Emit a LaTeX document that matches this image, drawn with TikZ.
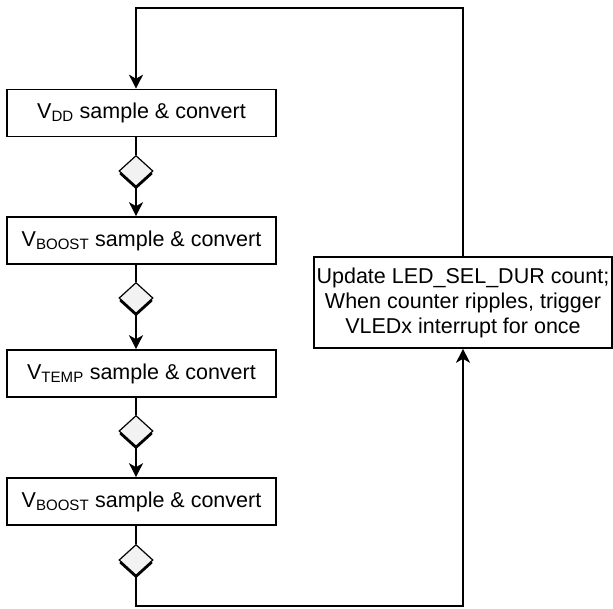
\documentclass[tikz,border=0pt]{standalone}
\usepackage{fontspec}
\setmainfont{Liberation Sans}
\usetikzlibrary{shapes.geometric,shadows,arrows.meta}

\begin{document}
\begin{tikzpicture}[x=1pt,y=1pt,line width=1.6pt,
		proc/.style={draw,fill=white,minimum width=269pt,minimum height=47pt,inner sep=0pt,font=\fontsize{21.5}{25}\selectfont},
		chk/.style={diamond,draw,fill=gray!10,minimum width=34pt,minimum height=31pt,inner sep=0pt,line width=1.2pt,
			drop shadow={shadow xshift=0pt,shadow yshift=-3pt,fill=black,opacity=1}},
		flow/.style={-{Stealth[length=14pt,width=14pt,inset=4pt]}}]
		\useasboundingbox (0,0) rectangle (613,609);
		\node[proc] (vdd) at (141.5,496) {V\textsubscript{DD} sample \& convert};
		\node[chk] (c1) at (136,438) {};
		\node[proc] (boost1) at (141.5,368.5) {V\textsubscript{BOOST} sample \& convert};
		\node[chk] (c2) at (136,311) {};
		\node[proc] (temp) at (141.5,235.5) {V\textsubscript{TEMP} sample \& convert};
		\node[chk] (c3) at (136,178) {};
		\node[proc] (boost2) at (141.5,107.5) {V\textsubscript{BOOST} sample \& convert};
		\node[chk] (c4) at (136,49) {};
		\node[proc,minimum width=298pt,minimum height=91pt,align=center] (upd) at (463,306.5)
			{Update LED\_SEL\_DUR count;\\ When counter ripples, trigger\\ VLEDx interrupt for once};
		\coordinate (top) at (136,601);
		\coordinate (bot) at (300,3);
		\draw (vdd.south -| c1) -- (c1.north);
		\draw[flow] (c1.south) -- (c1.south |- boost1.north);
		\draw (boost1.south -| c2) -- (c2.north);
		\draw[flow] (c2.south) -- (c2.south |- temp.north);
		\draw (temp.south -| c3) -- (c3.north);
		\draw[flow] (c3.south) -- (c3.south |- boost2.north);
		\draw (boost2.south -| c4) -- (c4.north);
		\draw[flow] (c4.south) |- (bot) -| (upd.south);
		\draw[flow] (upd.north) |- (top) -- (top |- vdd.north);
	\end{tikzpicture}
\end{document}
